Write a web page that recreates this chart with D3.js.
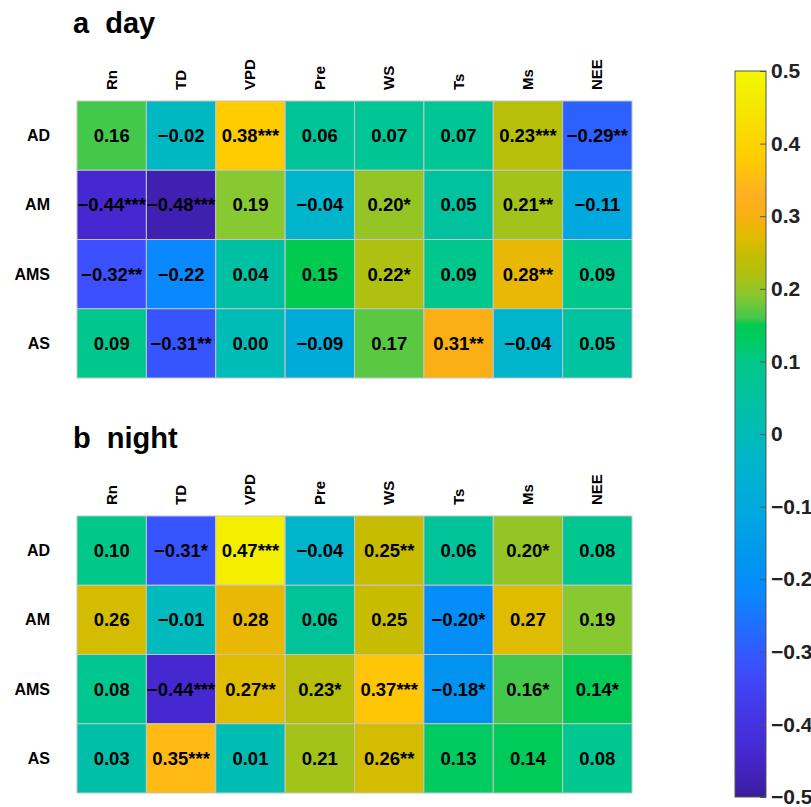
<!DOCTYPE html>
<html><head>
<meta charset="utf-8">
<title>Correlation heatmaps</title>
<script src="https://cdn.jsdelivr.net/npm/d3@7"></script>
<style>
body { margin: 0; background: #fff; }
svg text { font-family: "Liberation Sans", Arial, sans-serif; font-weight: bold; }
.title { font-size: 29px; white-space: pre; }
.collab { font-size: 15px; }
.rowlab { font-size: 16px; }
.val { font-size: 18.5px; }
</style>
</head>
<body>
<svg id="chart" width="811" height="807"></svg>
<script>
// rows / columns
const rows = ["AD", "AM", "AMS", "AS"];
const cols = ["Rn", "TD", "VPD", "Pre", "WS", "Ts", "Ms", "NEE"];

// day correlations and significance marks
const dayValues = [
  [0.16, -0.02, 0.38, 0.06, 0.07, 0.07, 0.23, -0.29],
  [-0.44, -0.48, 0.19, -0.04, 0.20, 0.05, 0.21, -0.11],
  [-0.32, -0.22, 0.04, 0.15, 0.22, 0.09, 0.28, 0.09],
  [0.09, -0.31, 0.00, -0.09, 0.17, 0.31, -0.04, 0.05]
];
const daySig = [
  ["", "", "***", "", "", "", "***", "**"],
  ["***", "***", "", "", "*", "", "**", ""],
  ["**", "", "", "", "*", "", "**", ""],
  ["", "**", "", "", "", "**", "", ""]
];

// night correlations and significance marks
const nightValues = [
  [0.10, -0.31, 0.47, -0.04, 0.25, 0.06, 0.20, 0.08],
  [0.26, -0.01, 0.28, 0.06, 0.25, -0.20, 0.27, 0.19],
  [0.08, -0.44, 0.27, 0.23, 0.37, -0.18, 0.16, 0.14],
  [0.03, 0.35, 0.01, 0.21, 0.26, 0.13, 0.14, 0.08]
];
const nightSig = [
  ["", "*", "***", "", "**", "", "*", ""],
  ["", "", "", "", "", "*", "", ""],
  ["", "***", "**", "*", "***", "*", "*", "*"],
  ["", "***", "", "", "**", "", "", ""]
];

// colorbar ticks
const cbarTicks = [0.5, 0.4, 0.3, 0.2, 0.1, 0, -0.1, -0.2, -0.3, -0.4, -0.5];

// colormap stops (parula-like, as printed)
const cmapValues = [-0.5, -0.48, -0.44, -0.38, -0.32, -0.29, -0.22, -0.18, -0.11, -0.04, 0, 0.04, 0.08, 0.10, 0.13, 0.15, 0.16, 0.19, 0.22, 0.25, 0.27, 0.30, 0.33, 0.38, 0.45, 0.5];
const cmapColors = ["#3a1e9a", "#4020b0", "#4528d0", "#4438e8", "#3c50ff", "#2c60ff", "#0a88ff", "#0094f0", "#00a8e0", "#00b4cc", "#00bcb8", "#00c0a4", "#00c690", "#00c888", "#00ca60", "#00ca50", "#44c84c", "#88c830", "#b0c010", "#c8bc00", "#e0bc00", "#f8b010", "#ffb020", "#ffcc00", "#f4e800", "#f4f800"];

const color = d3.scaleLinear().domain(cmapValues).range(cmapColors).interpolate(d3.interpolateRgb).clamp(true);

const svg = d3.select("#chart");
const fmt = d3.format(".2f");

function heatmap(top, title, values, sig) {
  const g = svg.append("g");
  const x = d3.scaleBand().domain(cols).range([77, 632]);
  const y = d3.scaleBand().domain(rows).range([top, top + 277]);

  g.append("text").attr("class", "title")
    .attr("x", 73).attr("y", top - 68)
    .text(title);

  g.selectAll(".collab").data(cols).join("text")
    .attr("class", "collab")
    .attr("transform", d => `translate(${x(d) + x.bandwidth() / 2 + 5},${top - 11}) rotate(-90)`)
    .attr("text-anchor", "start")
    .text(d => d);

  g.selectAll(".rowlab").data(rows).join("text")
    .attr("class", "rowlab")
    .attr("x", 50).attr("y", d => y(d) + y.bandwidth() / 2 + 5.5)
    .attr("text-anchor", "end")
    .text(d => d);

  const cells = [];
  values.forEach((r, i) => r.forEach((v, j) => cells.push({ row: rows[i], col: cols[j], v, s: sig[i][j] })));

  g.selectAll("rect.cell").data(cells).join("rect")
    .attr("class", "cell")
    .attr("x", d => x(d.col)).attr("y", d => y(d.row))
    .attr("width", x.bandwidth()).attr("height", y.bandwidth())
    .attr("fill", d => color(d.v))
    .attr("stroke", "#c4c4c4").attr("stroke-width", 1);

  g.selectAll("text.val").data(cells).join("text")
    .attr("class", "val")
    .attr("x", d => x(d.col) + x.bandwidth() / 2)
    .attr("y", d => y(d.row) + y.bandwidth() / 2 + 6.5)
    .attr("text-anchor", "middle")
    .text(d => fmt(d.v) + d.s);
}

heatmap(101, "a  day", dayValues, daySig);
heatmap(516, "b  night", nightValues, nightSig);

// colorbar
const cy = d3.scaleLinear().domain([-0.5, 0.5]).range([797, 71]);
const defs = svg.append("defs");
const grad = defs.append("linearGradient").attr("id", "cgrad")
  .attr("x1", 0).attr("y1", 1).attr("x2", 0).attr("y2", 0);
grad.selectAll("stop").data(cmapValues).join("stop")
  .attr("offset", d => (d + 0.5))
  .attr("stop-color", d => color(d));

const cb = svg.append("g").attr("class", "cbar");
cb.append("rect")
  .attr("x", 735).attr("y", cy(0.5))
  .attr("width", 31).attr("height", cy(-0.5) - cy(0.5))
  .attr("fill", "url(#cgrad)")
  .attr("stroke", "#555").attr("stroke-width", 1);

const axis = d3.axisRight(cy).tickValues(cbarTicks).tickSize(-6).tickPadding(5)
  .tickFormat(d => d === 0 ? "0" : d3.format(".1f")(d));
const ag = cb.append("g").attr("transform", "translate(766,0)").call(axis);
ag.select(".domain").remove();
ag.selectAll(".tick line").attr("stroke", "#555");
ag.selectAll(".tick text").attr("fill", "#222")
  .style("font-size", "21px").style("font-family", "'Liberation Sans', Arial, sans-serif").style("font-weight", "bold");
</script>
</body></html>
